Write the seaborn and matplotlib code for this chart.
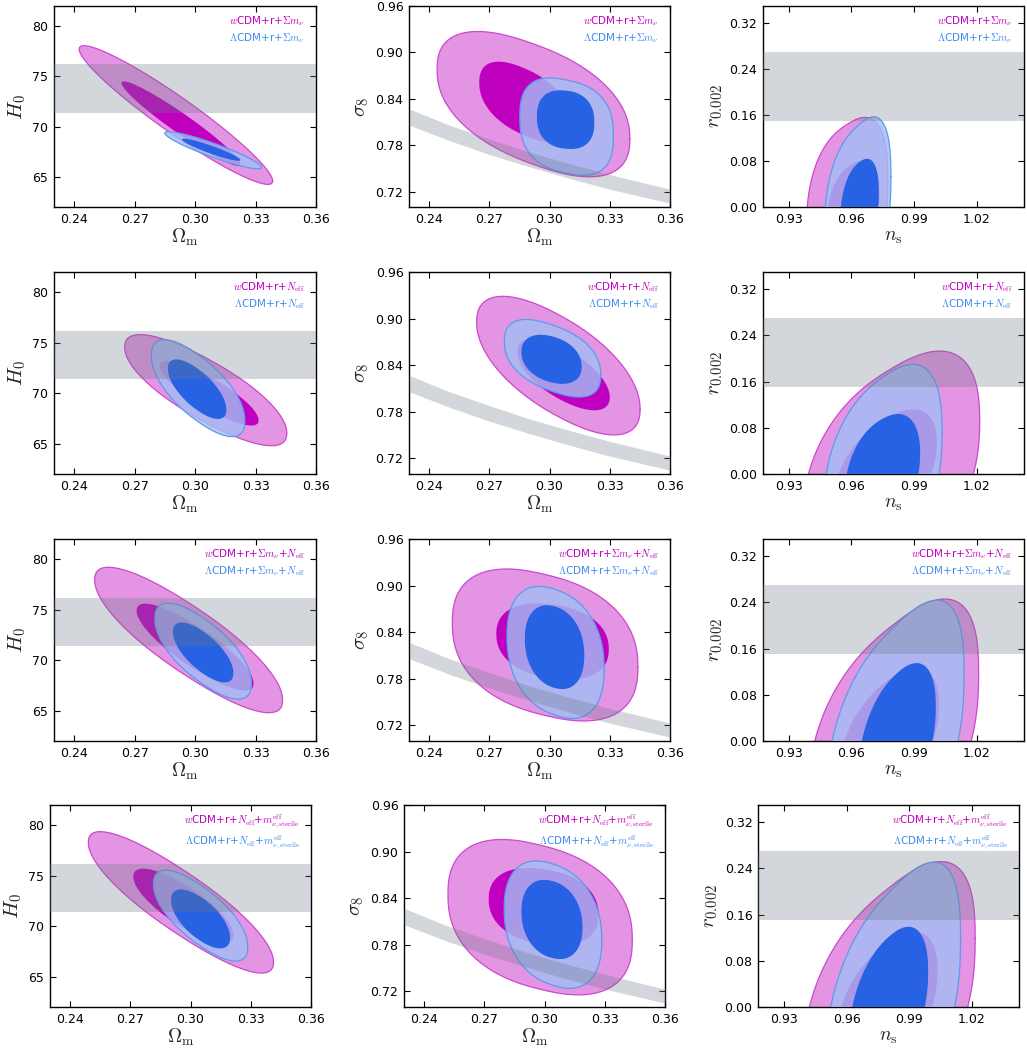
import numpy as np
import matplotlib
matplotlib.use("Agg")
import matplotlib.pyplot as plt
import seaborn as sns

# ---------------- data ----------------
# each contour: [centre_x, centre_y, half_extent_x, half_extent_y, correlation, squareness]
# rows: +Sum m_nu, +N_eff, +Sum m_nu+N_eff, +N_eff+m_sterile
h0_w_95 = [[0.2905, 71.15, 0.0480, 6.90, -0.950, 2.0],
           [0.3053, 70.30, 0.0402, 5.50, -0.80, 2.2],
           [0.2968, 72.00, 0.0466, 7.20, -0.85, 2.2],
           [0.2952, 72.36, 0.0461, 7.00, -0.87, 2.2]]
h0_w_68 = [[0.2930, 70.30, 0.0295, 4.20, -0.960, 2.0],
           [0.3070, 70.00, 0.0245, 3.20, -0.85, 2.1],
           [0.3000, 71.30, 0.0290, 4.30, -0.85, 2.1],
           [0.2965, 72.00, 0.0250, 3.70, -0.80, 2.1]]
h0_l_95 = [[0.3090, 67.65, 0.0240, 1.85, -0.920, 2.0],
           [0.3015, 70.50, 0.0232, 4.80, -0.70, 2.2],
           [0.3040, 70.90, 0.0240, 4.75, -0.70, 2.2],
           [0.3050, 71.05, 0.0235, 4.50, -0.72, 2.2]]
h0_l_68 = [[0.3080, 67.70, 0.0145, 1.10, -0.930, 2.0],
           [0.3010, 70.40, 0.0145, 2.95, -0.70, 2.1],
           [0.3040, 70.77, 0.0150, 2.97, -0.70, 2.1],
           [0.3050, 70.72, 0.0147, 2.92, -0.65, 2.1]]

s8_w_95 = [[0.2920, 0.8330, 0.0480, 0.0940, -0.50, 2.35],
           [0.3044, 0.8395, 0.0407, 0.0892, -0.65, 2.2],
           [0.2978, 0.8236, 0.0462, 0.0978, -0.30, 2.4],
           [0.2978, 0.8156, 0.0459, 0.1000, -0.30, 2.4]]
s8_w_68 = [[0.2875, 0.8360, 0.0225, 0.0520, -0.50, 2.3],
           [0.3070, 0.8280, 0.0230, 0.0460, -0.65, 2.1],
           [0.3015, 0.8280, 0.0280, 0.0490, -0.20, 2.3],
           [0.2995, 0.8290, 0.0273, 0.0500, -0.20, 2.3]]
s8_l_95 = [[0.3085, 0.8040, 0.0233, 0.0630, -0.20, 2.6],
           [0.3015, 0.8490, 0.0240, 0.0500, -0.45, 2.4],
           [0.3030, 0.8140, 0.0242, 0.0850, -0.25, 2.3],
           [0.3042, 0.8060, 0.0243, 0.0820, -0.25, 2.3]]
s8_l_68 = [[0.3080, 0.8130, 0.0143, 0.0380, -0.10, 2.4],
           [0.3010, 0.8476, 0.0150, 0.0316, -0.30, 2.2],
           [0.3025, 0.8208, 0.0148, 0.0540, -0.20, 2.2],
           [0.3037, 0.8127, 0.0152, 0.0510, -0.20, 2.2]]

r_w_95 = [[0.958, 0.0, 0.0195, 0.156, 0.30, 2.5],
          [0.979, 0.0, 0.0425, 0.213, 0.45, 2.4],
          [0.980, 0.0, 0.0410, 0.246, 0.50, 2.5],
          [0.980, 0.0, 0.0415, 0.252, 0.50, 2.5]]
r_w_68 = [[0.961, 0.0, 0.0125, 0.081, 0.30, 2.3],
          [0.976, 0.0, 0.0250, 0.112, 0.50, 2.2],
          [0.978, 0.0, 0.0240, 0.126, 0.50, 2.2],
          [0.979, 0.0, 0.0245, 0.130, 0.50, 2.2]]
r_l_95 = [[0.963, 0.0, 0.0160, 0.157, 0.35, 2.5],
          [0.975, 0.0, 0.0285, 0.190, 0.40, 2.4],
          [0.981, 0.0, 0.0330, 0.244, 0.50, 2.5],
          [0.982, 0.0, 0.0325, 0.251, 0.50, 2.5]]
r_l_68 = [[0.964, 0.0, 0.0092, 0.084, 0.30, 2.3],
          [0.975, 0.0, 0.0180, 0.104, 0.35, 2.2],
          [0.982, 0.0, 0.0185, 0.135, 0.45, 2.2],
          [0.980, 0.0, 0.0190, 0.139, 0.45, 2.2]]

# external priors (grey bands)
h0_band = [71.4, 76.2]
r_band = [0.15, 0.27]
sz_om = [0.23, 0.25, 0.27, 0.29, 0.31, 0.33, 0.36]
sz_lo = [0.806, 0.786, 0.768, 0.752, 0.737, 0.723, 0.705]
sz_hi = [0.827, 0.806, 0.788, 0.771, 0.756, 0.742, 0.723]

w_labels = [r"$w$CDM+r+$\Sigma m_\nu$",
            r"$w$CDM+r+$N_{\rm eff}$",
            r"$w$CDM+r+$\Sigma m_\nu$+$N_{\rm eff}$",
            r"$w$CDM+r+$N_{\rm eff}$+$m_{\nu,{\rm sterile}}^{\rm eff}$"]
l_labels = [r"$\Lambda$CDM+r+$\Sigma m_\nu$",
            r"$\Lambda$CDM+r+$N_{\rm eff}$",
            r"$\Lambda$CDM+r+$\Sigma m_\nu$+$N_{\rm eff}$",
            r"$\Lambda$CDM+r+$N_{\rm eff}$+$m_{\nu,{\rm sterile}}^{\rm eff}$"]

om_ticks = [0.24, 0.27, 0.30, 0.33, 0.36]
h0_ticks = [65, 70, 75, 80]
s8_ticks = [0.72, 0.78, 0.84, 0.90, 0.96]
ns_ticks = [0.93, 0.96, 0.99, 1.02]
r_ticks = [0.00, 0.08, 0.16, 0.24, 0.32]

# ---------------- style ----------------
sns.set_theme(style="ticks")
plt.rcParams["font.family"] = ["DejaVu Sans"]
plt.rcParams["mathtext.fontset"] = "cm"

MAG_OUT = "#E395E3"
MAG_IN = "#BF00BF"
MAG_EDGE = "#CC48CC"
BLU_OUT = "#A3BDF3"
BLU_IN = "#1F5FE3"
BLU_EDGE = "#5A9BEE"
BAND = "#6E7887"

W, H = 1027, 1052
fig = plt.figure(figsize=(W / 100, H / 100), dpi=100)

rows_y = [(6, 207), (272, 474), (539, 741), (805, 1007)]
cols_x = [[(54, 316), (409, 670), (762.5, 1023.5)]] * 3 + [[(50, 311), (404, 665), (758, 1019)]]


def contour_outline(p, n=360):
    cx, cy, hx, hy, rho, sq = p
    t = np.linspace(0, 2 * np.pi, n)
    u = np.sign(np.cos(t)) * np.abs(np.cos(t)) ** (2.0 / sq)
    v = np.sign(np.sin(t)) * np.abs(np.sin(t)) ** (2.0 / sq)
    s = np.sqrt(1 - rho ** 2)
    q = sq / (sq - 1.0)
    norm = (abs(rho) ** q + s ** q) ** (1.0 / q)
    x = cx + hx * u
    y = cy + hy * (rho * u + s * v) / norm
    return x, y


panels = [
    (h0_w_95, h0_w_68, h0_l_95, h0_l_68, (0.23, 0.36), (62, 82), om_ticks, h0_ticks,
     r"$\Omega_{\rm m}$", r"$H_0$", "{:.0f}"),
    (s8_w_95, s8_w_68, s8_l_95, s8_l_68, (0.23, 0.36), (0.70, 0.96), om_ticks, s8_ticks,
     r"$\Omega_{\rm m}$", r"$\sigma_8$", "{:.2f}"),
    (r_w_95, r_w_68, r_l_95, r_l_68, (0.9175, 1.0425), (0.0, 0.35), ns_ticks, r_ticks,
     r"$n_{\rm s}$", r"$r_{0.002}$", "{:.2f}"),
]

for i in range(4):
    for j in range(3):
        (x0, x1) = cols_x[i][j]
        (y0, y1) = rows_y[i]
        ax = fig.add_axes([x0 / W, 1 - y1 / H, (x1 - x0) / W, (y1 - y0) / H])
        w95, w68, l95, l68, xl, yl, xt, yt, xlab, ylab, yfmt = panels[j]

        x, y = contour_outline(w95[i])
        ax.fill(x, y, color=MAG_OUT, lw=0, zorder=1)
        ax.plot(x, y, color=MAG_EDGE, lw=0.9, zorder=1.5)
        x, y = contour_outline(w68[i])
        ax.fill(x, y, color=MAG_IN, lw=0, zorder=2)
        x, y = contour_outline(l95[i])
        ax.fill(x, y, color=BLU_OUT, alpha=0.82, lw=0, zorder=3)
        ax.plot(x, y, color=BLU_EDGE, lw=0.9, zorder=3.5)
        x, y = contour_outline(l68[i])
        ax.fill(x, y, color=BLU_IN, alpha=0.95, lw=0, zorder=4)

        if j == 0:
            ax.axhspan(h0_band[0], h0_band[1], color=BAND, alpha=0.3, lw=0, zorder=5)
        elif j == 1:
            ax.fill_between(sz_om, sz_lo, sz_hi, color=BAND, alpha=0.3, lw=0, zorder=5)
        else:
            ax.axhspan(r_band[0], r_band[1], color=BAND, alpha=0.3, lw=0, zorder=5)

        ax.set_xlim(*xl)
        ax.set_ylim(*yl)
        ax.set_xticks(xt)
        ax.set_yticks(yt)
        ax.set_xticklabels(["{:.2f}".format(v) for v in xt])
        ax.set_yticklabels([yfmt.format(v) for v in yt])
        ax.tick_params(direction="in", top=True, right=True, length=4, width=0.8,
                       labelsize=9, colors="black", pad=4)
        for s in ax.spines.values():
            s.set_linewidth(1.0)
            s.set_color("black")
        ax.set_xlabel(xlab, fontsize=14, labelpad=1)
        ax.set_ylabel(ylab, fontsize=15, labelpad=3)
        ax.set_facecolor("white")

        ty1, ty2 = (0.925, 0.84) if i < 3 else (0.92, 0.815)
        ax.text(0.958, ty1, w_labels[i], color=MAG_IN, fontsize=7.5, ha="right",
                va="center", transform=ax.transAxes, zorder=10)
        ax.text(0.958, ty2, l_labels[i], color="#3C8CF0", fontsize=7.5, ha="right",
                va="center", transform=ax.transAxes, zorder=10)

fig.savefig("out.png", dpi=100, facecolor="white")
